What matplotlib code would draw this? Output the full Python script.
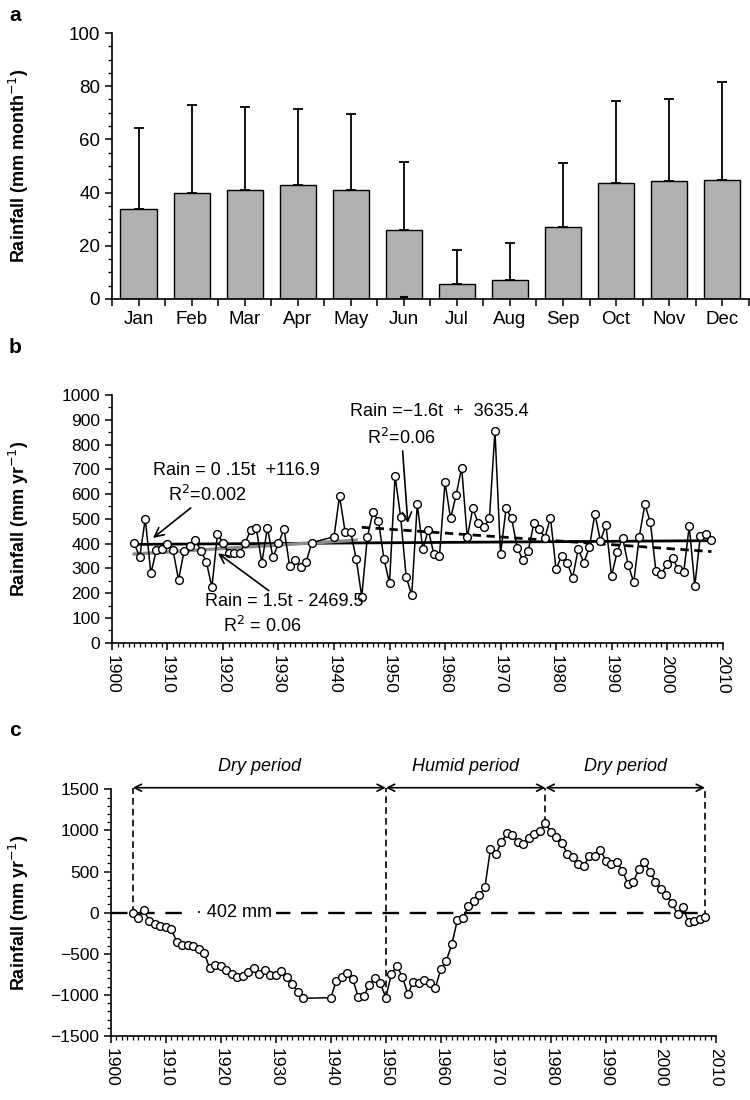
import numpy as np
import matplotlib
matplotlib.use('Agg')
import matplotlib.pyplot as plt
from matplotlib.ticker import MultipleLocator

plt.rcParams['font.family'] = ['Liberation Sans Narrow', 'Liberation Sans', 'DejaVu Sans']

# --- panel a: monthly rainfall (mean and sd) ---
months = ['Jan', 'Feb', 'Mar', 'Apr', 'May', 'Jun', 'Jul', 'Aug', 'Sep', 'Oct', 'Nov', 'Dec']
rain_month = [33.8, 39.9, 40.8, 42.9, 40.8, 26.1, 5.6, 7.3, 27.0, 43.5, 44.4, 44.9]
rain_month_sd = [30.6, 33.0, 31.2, 28.6, 28.6, 25.4, 12.9, 13.6, 24.0, 31.0, 30.7, 36.8]

# --- panel b: annual rainfall ---
years_b = list(range(1904, 1937)) + list(range(1940, 2009))
rain_year = [401, 346, 501, 280, 373, 380, 397, 373, 253, 372,
             389, 415, 372, 327, 224, 437, 404, 361, 361, 361,
             404, 455, 462, 323, 464, 345, 402, 459, 311, 334,
             307, 327, 404,
             428, 592, 448, 447, 338, 186, 425, 526, 493, 338,
             240, 673, 509, 267, 191, 559, 378, 455, 357, 350,
             647, 502, 596, 707, 425, 542, 482, 466, 502, 855,
             357, 542, 502, 384, 334, 372, 482, 459, 424, 505,
             296, 351, 323, 263, 378, 323, 385, 520, 412, 475,
             269, 365, 424, 314, 244, 428, 559, 486, 289, 277,
             318, 341, 297, 284, 471, 229, 431, 439, 415]

# trend lines (start/end years and values)
trend_all_x, trend_all_y = [1904, 2008], [397, 412]
trend_early_x, trend_early_y = [1904, 1944], [358, 414]
trend_late_x, trend_late_y = [1945, 2008], [466, 368]

# --- panel c: cumulative deviation from the mean (402 mm) ---
years_c = list(range(1904, 1936)) + list(range(1940, 2009))
cum_dev = [0, -69, 33, -97, -137, -162, -170, -202, -352, -393,
           -393, -401, -446, -494, -677, -636, -644, -697, -746, -778,
           -770, -717, -669, -746, -697, -758, -758, -705, -786, -871,
           -961, -1042,
           -1034, -827, -778, -738, -811, -1030, -1013, -880, -798, -859,
           -1034, -746, -648, -778, -993, -839, -859, -819, -859, -912,
           -685, -583, -381, -89, -69, 81, 146, 215, 309, 771,
           710, 856, 966, 945, 856, 836, 905, 957, 994, 1095,
           978, 925, 844, 714, 674, 593, 572, 690, 694, 763,
           629, 593, 613, 511, 345, 378, 532, 613, 499, 378,
           284, 215, 114, -20, 65, -117, -97, -77, -48]
period_bounds = [1904, 1950, 1979, 2008]
period_names = ['Dry period', 'Humid period', 'Dry period']

fig = plt.figure(figsize=(7.5, 11), dpi=100)

def style_axes(ax):
    ax.spines['top'].set_visible(False)
    ax.spines['right'].set_visible(False)
    ax.spines['left'].set_linewidth(1.2)
    ax.spines['bottom'].set_linewidth(1.2)

# Panel a
ax_a = fig.add_axes([0.1493, 0.7282, 0.849, 0.2418])
x = np.arange(len(months))
ax_a.bar(x, rain_month, width=0.68, color='#b0b0b0', edgecolor='black', linewidth=1.0, zorder=2)
ax_a.errorbar(x, rain_month, yerr=[np.zeros(len(x)), rain_month_sd], fmt='none',
              ecolor='black', elinewidth=1.3, capsize=3.5, capthick=1.3, zorder=3)
ax_a.plot(x[5], rain_month[5] - rain_month_sd[5], marker='_', ms=6, mew=1.5, color='black', zorder=3)
ax_a.set_xlim(-0.5, 11.5)
ax_a.set_ylim(0, 100)
ax_a.set_xticks(x)
ax_a.set_xticklabels(months)
ax_a.set_xticks(np.arange(-0.5, 12, 1), minor=True)
ax_a.yaxis.set_major_locator(MultipleLocator(20))
ax_a.yaxis.set_minor_locator(MultipleLocator(5))
ax_a.tick_params(axis='both', which='major', labelsize=13.5, length=5, width=1.1, direction='out')
ax_a.tick_params(axis='x', which='minor', length=5, width=1.1, direction='out')
ax_a.tick_params(axis='y', which='minor', length=3, width=1.0, direction='out')
ax_a.set_ylabel('Rainfall (mm month$^{-1}$)', fontsize=13, fontweight='bold', family='Liberation Sans')
ax_a.yaxis.set_label_coords(-0.127, 0.5)
style_axes(ax_a)

# Panel b
ax_b = fig.add_axes([0.1493, 0.4157, 0.8141, 0.2252])
ax_b.plot(trend_all_x, trend_all_y, color='black', lw=2.0, zorder=2)
ax_b.plot(trend_early_x, trend_early_y, color='#8c8c8c', lw=2.4, zorder=2.5)
ax_b.plot(trend_late_x, trend_late_y, color='black', lw=2.0, linestyle=(0, (3, 2)), zorder=2)
ax_b.plot(years_b, rain_year, '-o', color='black', lw=1.1, ms=5.6, mfc='white',
          mec='black', mew=1.0, zorder=3)
ax_b.set_xlim(1900, 2010)
ax_b.set_ylim(0, 1000)
ax_b.xaxis.set_major_locator(MultipleLocator(10))
ax_b.xaxis.set_minor_locator(MultipleLocator(1))
ax_b.yaxis.set_major_locator(MultipleLocator(100))
ax_b.yaxis.set_minor_locator(MultipleLocator(50))
ax_b.tick_params(axis='both', which='major', labelsize=12.5, length=5, width=1.1, direction='out')
ax_b.tick_params(axis='both', which='minor', length=3, width=0.9, direction='out')
plt.setp(ax_b.get_xticklabels(), rotation=270)
ax_b.set_ylabel('Rainfall (mm yr$^{-1}$)', fontsize=13, fontweight='bold', family='Liberation Sans')
ax_b.yaxis.set_label_coords(-0.133, 0.5)
style_axes(ax_b)

ann = dict(fontsize=13, family='Liberation Sans', ha='center', va='center')
arr = dict(arrowstyle='->,head_length=0.5,head_width=0.25', color='black', lw=1.2,
           shrinkA=0, shrinkB=0)
ax_b.text(1922.5, 697, 'Rain = 0 .15t  +116.9', **ann)
ax_b.annotate('R$^2$=0.002', xy=(1907.4, 423), xytext=(1917.1, 596), arrowprops=arr, **ann)
ax_b.text(1958.9, 932, 'Rain =\u22121.6t  +  3635.4', **ann)
ax_b.annotate('R$^2$=0.06', xy=(1953.3, 483), xytext=(1952.2, 826), arrowprops=arr, **ann)
ax_b.annotate('Rain = 1.5t - 2469.5', xy=(1919.1, 361), xytext=(1931.0, 165), arrowprops=arr, **ann)
ax_b.text(1927.0, 67, 'R$^2$ = 0.06', **ann)

# Panel c
ax_c = fig.add_axes([0.1476, 0.0582, 0.8071, 0.2242])
ax_c.plot([1900, 2008], [0, 0], color='black', lw=1.7, linestyle=(0, (7, 4.5)), zorder=1)
ax_c.text(1922.4, 0, '\u00b7 402 mm', fontsize=13, family='Liberation Sans', ha='center', va='center',
          bbox=dict(facecolor='white', edgecolor='none', pad=3), zorder=2)
ax_c.plot(years_c, cum_dev, '-o', color='black', lw=1.1, ms=5.6, mfc='white',
          mec='black', mew=1.0, zorder=3)
arrow_y = 1520
for yr in period_bounds:
    ax_c.plot([yr, yr], [cum_dev[years_c.index(yr)], arrow_y], color='black', lw=1.2,
              linestyle=(0, (4, 2.5)), zorder=1, clip_on=False)
for i, name in enumerate(period_names):
    x0, x1 = period_bounds[i], period_bounds[i + 1]
    ax_c.annotate('', xy=(x0, arrow_y), xytext=(x1, arrow_y), annotation_clip=False,
                  arrowprops=dict(arrowstyle='<->,head_length=0.5,head_width=0.25',
                                  color='black', lw=1.2, shrinkA=0, shrinkB=0))
    ax_c.text((x0 + x1) / 2, 1772, name, fontsize=13, style='italic', family='Liberation Sans',
              ha='center', va='center', clip_on=False)
ax_c.set_xlim(1900, 2010)
ax_c.set_ylim(-1500, 1500)
ax_c.xaxis.set_major_locator(MultipleLocator(10))
ax_c.xaxis.set_minor_locator(MultipleLocator(1))
ax_c.yaxis.set_major_locator(MultipleLocator(500))
ax_c.yaxis.set_minor_locator(MultipleLocator(100))
ax_c.tick_params(axis='both', which='major', labelsize=12.5, length=5, width=1.1, direction='out')
ax_c.tick_params(axis='both', which='minor', length=3, width=0.9, direction='out')
plt.setp(ax_c.get_xticklabels(), rotation=270)
ax_c.set_ylabel('Rainfall (mm yr$^{-1}$)', fontsize=13, fontweight='bold', family='Liberation Sans')
ax_c.yaxis.set_label_coords(-0.132, 0.5)
style_axes(ax_c)

# Panel letters
fig.text(0.012, 0.986, 'a', fontsize=15, fontweight='bold', family='Liberation Sans', va='center')
fig.text(0.012, 0.684, 'b', fontsize=15, fontweight='bold', family='Liberation Sans', va='center')
fig.text(0.012, 0.336, 'c', fontsize=15, fontweight='bold', family='Liberation Sans', va='center')

fig.savefig('out.png', dpi=100)
